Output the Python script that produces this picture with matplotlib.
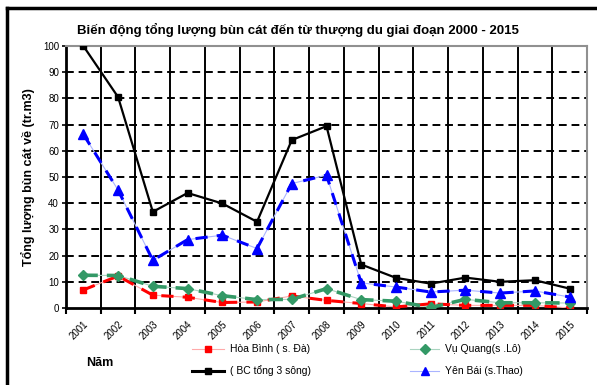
import matplotlib
matplotlib.use("Agg")
import matplotlib.pyplot as plt
from matplotlib.lines import Line2D
import numpy as np

plt.rcParams['font.family'] = ['Liberation Sans', 'DejaVu Sans']

years = ['2001', '2002', '2003', '2004', '2005', '2006', '2007', '2008',
         '2009', '2010', '2011', '2012', '2013', '2014', '2015']
hoa_binh = [6.9, 12.2, 4.9, 4.1, 2.1, 2.3, 4.6, 2.9, 1.7, 0.4, 1.6, 1.0, 1.0, 1.0, 0.0]
vu_quang = [12.5, 12.4, 8.3, 7.4, 4.7, 3.2, 3.3, 7.4, 3.2, 2.6, 0.2, 3.3, 2.0, 2.0, 1.9]
yen_bai = [66.3, 45.0, 18.2, 26.1, 27.8, 22.7, 47.5, 50.7, 9.6, 8.0, 6.1, 6.8, 5.7, 6.5, 4.2]
tong = [100.0, 80.5, 36.7, 43.9, 39.9, 32.9, 64.1, 69.4, 16.6, 11.5, 9.3, 11.6, 10.0, 10.6, 7.4]
yticks = [0, 10, 20, 30, 40, 50, 60, 70, 80, 90, 100]

title = 'Biến động tổng lượng bùn cát đến từ thượng du giai đoạn 2000 - 2015'
ylabel = 'Tổng lượng bùn cát về (tr.m3)'
xlabel = 'Năm'
names = ['Hòa Bình ( s. Đà)', 'Vụ Quang(s .Lô)', '( BC tổng 3 sông)', 'Yên Bái (s.Thao)']

fig = plt.figure(figsize=(5.97, 3.85), dpi=100)
ax = fig.add_axes([66/597, 1-308/385, (587-66)/597, (308-46)/385])

n = len(years)
x = np.arange(n) + 0.5
ax.set_xlim(0, n)
ax.set_ylim(0, 100)

# gridlines
for b in range(1, n):
    ax.axvline(b, color='black', lw=1.4, zorder=1)
for yv in yticks[1:-1]:
    ax.axhline(yv, color='black', lw=1.4, ls=(0, (4, 2.5)), zorder=1.5)

red, green, blue = '#ff0000', '#339966', '#0000ff'
# red series
ax.plot(x, hoa_binh, color='#ffaaaa', lw=0.8, zorder=3)
ax.plot(x, hoa_binh, color=red, lw=2.2, ls=(0, (4, 3)), zorder=3.1)
ax.plot(x, hoa_binh, ls='none', marker='s', ms=5, color=red, zorder=5)
# green series
ax.plot(x, vu_quang, color='#aad4c0', lw=0.8, zorder=3)
ax.plot(x, vu_quang, color=green, lw=2.6, ls=(0, (4, 2.5)), zorder=3.2)
ax.plot(x, vu_quang, ls='none', marker='D', ms=5, color=green, zorder=5)
# blue series
ax.plot(x, yen_bai, color='#aab4ff', lw=0.8, zorder=3)
ax.plot(x, yen_bai, color=blue, lw=2.2, ls=(0, (4, 3)), zorder=3.3)
ax.plot(x, yen_bai, ls='none', marker='^', ms=6.5, color=blue, zorder=5)
# black series
ax.plot(x, tong, color='black', lw=1.6, marker='s', ms=4.5, zorder=4)

for s in ['top', 'right']:
    ax.spines[s].set_color('#909090')
    ax.spines[s].set_linewidth(1.5)
for s in ['left', 'bottom']:
    ax.spines[s].set_color('black')
    ax.spines[s].set_linewidth(2)

ax.set_yticks(yticks)
ax.set_yticklabels([str(v) for v in yticks], fontsize=7)
ax.tick_params(axis='y', length=3, width=1.2, pad=2)
ax.set_xticks(np.arange(0, n + 1), minor=False)
ax.set_xticklabels([])
ax.tick_params(axis='x', length=4, width=1.5)
ax.set_xticks(x, minor=True)
ax.set_xticklabels(years, minor=True, rotation=45, ha='right', va='top',
                   rotation_mode='anchor', fontsize=7)
ax.tick_params(axis='x', which='minor', length=0, pad=8)

ax.set_ylabel(ylabel, fontsize=9, fontweight='bold', labelpad=6)
fig.text(298/597, 1-30/385, title, ha='center', va='center', fontsize=9.5, fontweight='bold')
fig.text(100/597, 1-363/385, xlabel, ha='center', va='center', fontsize=9, fontweight='bold')

# legend
def leg_entry(x0, x1, y, color, lcolor, lw, marker, ms, label):
    yy = 1 - y/385
    fig.add_artist(Line2D([x0/597, x1/597], [yy, yy], color=lcolor, lw=lw,
                          marker=None, transform=fig.transFigure))
    fig.add_artist(Line2D([(x0+x1)/2/597], [yy], color=color, ls='none', marker=marker,
                          ms=ms, transform=fig.transFigure))
    fig.text((x1+6)/597, yy, label, ha='left', va='center', fontsize=7.5)

leg_entry(192, 224, 349, red, '#ffaaaa', 0.8, 's', 5, names[0])
leg_entry(410, 439, 349, green, '#aad4c0', 0.8, 'D', 5, names[1])
leg_entry(192, 224, 371, 'black', 'black', 2.2, 's', 4, names[2])
leg_entry(410, 439, 371, blue, '#aab4ff', 0.8, '^', 6, names[3])

# outer border (top & left)
fig.add_artist(Line2D([7/597, 1], [1-8/385, 1-8/385], color='black', lw=2.5, transform=fig.transFigure))
fig.add_artist(Line2D([7/597, 7/597], [0, 1-8/385], color='black', lw=2.5, transform=fig.transFigure))

fig.savefig('out.png', dpi=100)
